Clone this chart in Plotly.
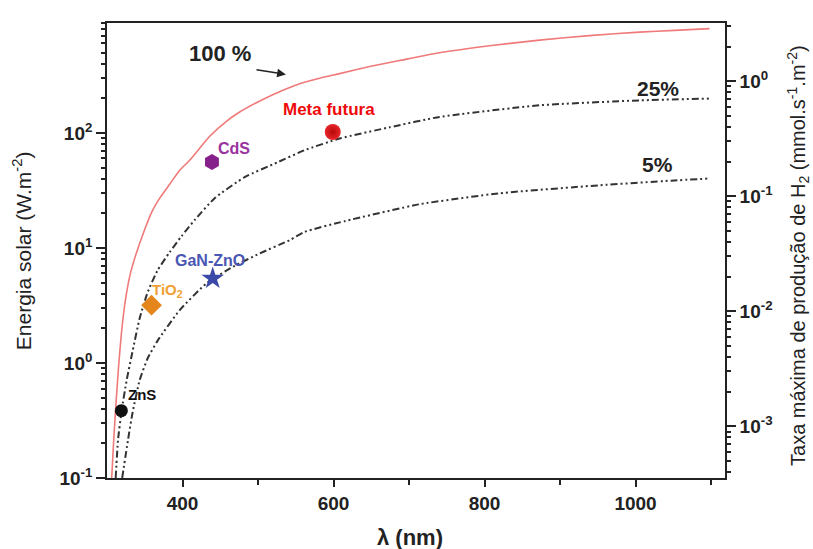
import plotly.graph_objects as go
import math

# ---- data ----
lam_100 = [306.2, 308.9, 312.2, 315.5, 319.5, 324.8, 331.4, 339.3, 348.6, 359.2, 369.8, 383,
           396.3, 409.5, 422.7, 436, 459.8, 475.7, 497.8, 518.1, 537.9, 555.1, 581.6, 608.1,
           647.8, 687.5, 740.5, 806.7, 872.9, 939.1, 1005.2, 1051.6, 1098]
val_100 = [0.1, 0.214, 0.476, 0.96, 1.93, 3.66, 6.16, 9.19, 13.7, 20.5, 27.1, 35.8,
           47.4, 57.9, 73.6, 93.5, 128.8, 152, 183, 213, 242, 268, 299, 328,
           378, 426, 498, 573, 642, 702, 753, 780, 807]

lam_25 = [311.5, 314.6, 319.5, 326.1, 334.1, 343.3, 353.9, 367.1, 383, 398.9, 416.1, 442.6,
          482.3, 526, 561.7, 608, 674.3, 740.5, 872.9, 1005.2, 1098]
val_25 = [0.1, 0.214, 0.39, 0.711, 1.29, 2.45, 4.13, 6.41, 9.19, 12.7, 17.5, 27.1,
          41.3, 55.6, 70.8, 89.4, 112, 137.8, 174, 192, 199]

lam_5 = [320.1, 327.8, 334.0, 343.3, 353.9, 367.5, 396.3, 431.6, 466.8, 502.2, 541.9, 561.8,
         614.7, 714, 820, 952.4, 1047.7, 1098]
val_5 = [0.1, 0.214, 0.374, 0.71, 1.10, 1.58, 2.88, 4.92, 6.86, 8.96, 11.7, 13.8,
         17.1, 24.0, 29.9, 35.1, 38.5, 40.2]

mat_names = ["ZnS", "TiO<sub>2</sub>", "GaN-ZnO", "CdS", "Meta futura"]
mat_lam = [319, 359, 440, 439, 599]
mat_val = [0.385, 3.18, 5.43, 56, 102]
mat_symbol = ["circle", "diamond", "star", "hexagon", "circle"]
mat_color = ["#111111", "#e5861c", "#3a48a8", "#86208a", "#e8262a"]
mat_size = [13, 16, 17, 16, 16]
lab_color = ["#111111", "#f0a032", "#4a56b4", "#9a32a0", "#ee0a0a"]
lab_lam = [325, 380, 436, 468, 594]
lab_val = [0.537, 4.30, 7.83, 73.1, 159.6]
lab_anchor = ["left", "center", "center", "center", "center"]
lab_size = [15, 15, 16, 16, 17]

curve_labels = ["100 %", "25%", "5%"]
curve_lab_lam = [449, 1030, 1029]
curve_lab_val = [489, 243, 53.5]

y_major = [0.1, 1, 10, 100]
y_major_text = ["10<sup>-1</sup>", "10<sup>0</sup>", "10<sup>1</sup>", "10<sup>2</sup>"]
y2_major = [0.001, 0.01, 0.1, 1]
y2_major_text = ["10<sup>-3</sup>", "10<sup>-2</sup>", "10<sup>-1</sup>", "10<sup>0</sup>"]
x_ticks = [400, 600, 800, 1000]
x_minor = [500, 700, 900, 1100]

# minor tick positions (2..9 within each decade)
y_minor = [k * 10.0 ** e for e in range(-1, 3) for k in range(2, 10)]
y2_minor = [k * 10.0 ** e for e in range(-4, 1) for k in range(2, 10)]

FONT = "Liberation Sans, Arial, sans-serif"
INK = "#222222"

fig = go.Figure()
fig.add_trace(go.Scatter(x=lam_100, y=val_100, mode="lines",
                         line=dict(color="#f07a7a", width=1.6, shape="spline", smoothing=0.5),
                         showlegend=False, hoverinfo="skip"))
dd = "7px,3px,2px,3px,2px,3px"
fig.add_trace(go.Scatter(x=lam_25, y=val_25, mode="lines",
                         line=dict(color="#333333", width=2, dash=dd, shape="spline", smoothing=0.5),
                         showlegend=False, hoverinfo="skip"))
fig.add_trace(go.Scatter(x=lam_5, y=val_5, mode="lines",
                         line=dict(color="#333333", width=2, dash=dd, shape="spline", smoothing=0.5),
                         showlegend=False, hoverinfo="skip"))

for i in range(len(mat_names)):
    marker = dict(symbol=mat_symbol[i], color=mat_color[i], size=mat_size[i],
                  line=dict(width=0))
    if mat_names[i] == "Meta futura":
        marker["gradient"] = dict(type="radial", color="#b80808")
    fig.add_trace(go.Scatter(x=[mat_lam[i]], y=[mat_val[i]], mode="markers",
                             marker=marker, showlegend=False, hoverinfo="skip"))

# dummy traces to attach the extra axes
for ya in ["y2", "y3", "y4"]:
    fig.add_trace(go.Scatter(x=[None], y=[None], yaxis=ya, showlegend=False, hoverinfo="skip"))

ann = []
for i in range(len(mat_names)):
    ann.append(dict(x=lab_lam[i], y=math.log10(lab_val[i]), xref="x", yref="y",
                    text="<b>%s</b>" % mat_names[i], showarrow=False,
                    xanchor=lab_anchor[i], yanchor="middle",
                    font=dict(family=FONT, size=lab_size[i], color=lab_color[i])))
for i in range(len(curve_labels)):
    ann.append(dict(x=curve_lab_lam[i], y=math.log10(curve_lab_val[i]), xref="x", yref="y",
                    text="<b>%s</b>" % curve_labels[i], showarrow=False,
                    font=dict(family=FONT, size=22 if i == 0 else 21, color=INK)))
# arrow for 100 %
ann.append(dict(x=537, y=math.log10(323), xref="x", yref="y",
                ax=496, ay=math.log10(356), axref="x", ayref="y",
                showarrow=True, arrowhead=2, arrowsize=1.1, arrowwidth=1.6,
                arrowcolor=INK, text=""))
# axis titles
ann.append(dict(x=-0.138, y=0.5, xref="paper", yref="paper", textangle=-90,
                xanchor="center", yanchor="middle",
                text="Energia solar (W.m<sup>-2</sup>)", showarrow=False,
                font=dict(family=FONT, size=21, color=INK)))
ann.append(dict(x=1.118, y=0.49, xref="paper", yref="paper", textangle=-90,
                xanchor="center", yanchor="middle",
                text="Taxa máxima de produção de H<sub>2</sub> (mmol.s<sup>-1</sup>.m<sup>-2</sup>)",
                showarrow=False, font=dict(family=FONT, size=20, color=INK)))
ann.append(dict(x=0.49, y=-0.13, xref="paper", yref="paper", xanchor="center",
                yanchor="middle", text="<b>λ (nm)</b>", showarrow=False,
                font=dict(family=FONT, size=22, color=INK)))

tickfont = dict(family=FONT, size=19, color=INK, weight="bold")
Y1_RANGE = [-1, 2.956]
Y2_RANGE = [-3.45, 0.506]

fig.update_layout(
    width=813, height=549,
    margin=dict(l=107, r=88, t=23, b=71),
    paper_bgcolor="white", plot_bgcolor="white",
    annotations=ann,
    xaxis=dict(range=[300, 1118.5], tickvals=x_ticks, ticks="outside", ticklen=7,
               tickwidth=1.6, tickcolor=INK, showline=True, linecolor=INK, linewidth=1.6,
               mirror=True, showgrid=False, zeroline=False, tickfont=tickfont,
               minor=dict(tickmode="array", tickvals=x_minor, ticklen=5, ticks="outside",
                          tickwidth=1.6, tickcolor=INK, showgrid=False)),
    # left axis: long decade ticks with labels
    yaxis=dict(type="log", range=Y1_RANGE, tickmode="array", tickvals=y_major,
               ticktext=y_major_text, ticks="outside", ticklen=9, tickwidth=1.8,
               tickcolor=INK, showline=True, linecolor=INK, linewidth=1.6, showgrid=False,
               zeroline=False, tickfont=tickfont),
    # right axis: long decade ticks with labels
    yaxis2=dict(type="log", range=Y2_RANGE, overlaying="y", side="right",
                tickmode="array", tickvals=y2_major, ticktext=y2_major_text,
                ticks="outside", ticklen=9, tickwidth=1.8, tickcolor=INK,
                showline=True, linecolor=INK, linewidth=1.6, showgrid=False,
                zeroline=False, tickfont=tickfont),
    # short minor ticks (no labels)
    yaxis3=dict(type="log", range=Y1_RANGE, overlaying="y", side="left",
                tickmode="array", tickvals=y_minor, showticklabels=False,
                ticks="outside", ticklen=5, tickwidth=1.5, tickcolor=INK,
                showline=False, showgrid=False, zeroline=False),
    yaxis4=dict(type="log", range=Y2_RANGE, overlaying="y", side="right",
                tickmode="array", tickvals=y2_minor, showticklabels=False,
                ticks="outside", ticklen=5, tickwidth=1.5, tickcolor=INK,
                showline=False, showgrid=False, zeroline=False),
)

fig.write_html("out.html")
